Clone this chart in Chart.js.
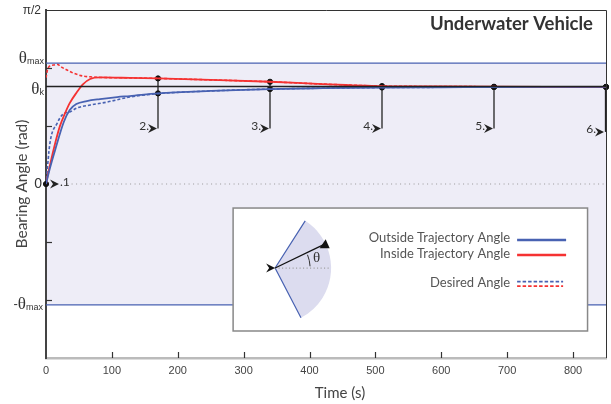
<!DOCTYPE html>
<html>
<head>
<meta charset="utf-8">
<script src="https://cdn.jsdelivr.net/npm/chart.js@4.4.1/dist/chart.umd.min.js"></script>
<style>
  body { margin: 0; background: #fff; }
</style>
</head>
<body>
<canvas id="myChart" width="611" height="404"></canvas>
<script>
// bearing angle (rad) against time (s)
const insideTimes = [0, 6, 14, 21, 29, 36, 47, 56, 67, 82, 127, 170, 250, 340, 420, 510, 600, 680, 760, 850];
const insideAngle = [0, 0.17, 0.37, 0.52, 0.64, 0.73, 0.83, 0.90, 0.948, 0.962, 0.958, 0.953, 0.94, 0.923, 0.902, 0.884, 0.880, 0.878, 0.877, 0.876];
const outsideTimes = [0, 6, 14, 27, 36, 46, 62, 82, 108, 127, 170, 250, 340, 420, 510, 600, 680, 760, 850];
const outsideAngle = [0, 0.144, 0.31, 0.56, 0.668, 0.722, 0.749, 0.767, 0.785, 0.794, 0.818, 0.84, 0.857, 0.865, 0.871, 0.873, 0.875, 0.876, 0.877];
const insideRefTimes = [0, 3, 11, 18, 21, 32, 41, 56, 71, 82, 127, 170, 250, 340, 420, 510, 600, 680, 760, 850];
const insideRefAngle = [0.96, 1.047, 1.074, 1.08, 1.065, 1.029, 1.002, 0.975, 0.966, 0.962, 0.958, 0.953, 0.94, 0.923, 0.902, 0.884, 0.880, 0.878, 0.877, 0.876];
const outsideRefTimes = [0, 6, 17, 26, 36, 47, 67, 93, 127, 170, 250, 340, 420, 510, 600, 680, 760, 850];
const outsideRefAngle = [0, 0.37, 0.55, 0.632, 0.65, 0.686, 0.713, 0.74, 0.785, 0.816, 0.84, 0.857, 0.865, 0.871, 0.873, 0.875, 0.876, 0.877];

const thetaMax = 1.092;
const thetaK = 0.88;

// numbered waypoints
const markerTimes = [170, 340, 510, 680, 850];
const markerInside = [0.953, 0.923, 0.884, 0.878, 0.876];
const markerOutside = [0.818, 0.857, 0.871, 0.875, 0.877];
const markerBottom = [0.5, 0.5, 0.5, 0.5, 0.47];
const markerNames = ['2.', '3.', '4.', '5.', '6.'];

const xTicks = [0, 100, 200, 300, 400, 500, 600, 700, 800];
const yTickMarks = [-Math.PI / 3, -Math.PI / 6, Math.PI / 6, Math.PI / 3];

const BLUE = '#4862b2';
const RED = '#f53232';

const pts = (ts, ys) => ts.map((t, i) => ({x: t, y: ys[i]}));

function chevron(ctx, x, y) {
    ctx.beginPath();
    ctx.moveTo(x, y);
    ctx.lineTo(x - 9, y - 4.5);
    ctx.lineTo(x - 6, y);
    ctx.lineTo(x - 9, y + 4.5);
    ctx.closePath();
    ctx.fill();
}

function thetaLabel(ctx, xr, base, sub, minus) {
    ctx.textAlign = 'right';
    ctx.textBaseline = 'alphabetic';
    ctx.font = '9px "Liberation Sans"';
    ctx.fillText(sub, xr, base + 1);
    let w = ctx.measureText(sub).width;
    ctx.font = '17px "Liberation Serif"';
    ctx.fillText('θ', xr - w, base);
    if (minus) {
        let w2 = ctx.measureText('θ').width;
        ctx.font = '13px "Liberation Sans"';
        ctx.fillText('-', xr - w - w2, base - 1);
    }
}

const decor = {
    id: 'decor',
    beforeDraw(chart) {
        const {ctx, chartArea: a, scales: {y}} = chart;
        const top = y.getPixelForValue(thetaMax), bot = y.getPixelForValue(-thetaMax);
        ctx.save();
        ctx.fillStyle = '#eeedf7';
        ctx.fillRect(a.left, top, a.right - a.left, bot - top);
        ctx.restore();
    },
    beforeDatasetsDraw(chart) {
        const {ctx, scales: {x, y}} = chart;
        ctx.save();
        ctx.strokeStyle = '#222';
        ctx.lineWidth = 1.3;
        markerTimes.forEach((t, i) => {
            const px = Math.min(x.getPixelForValue(t), chart.chartArea.right - 0.5);
            ctx.beginPath();
            ctx.moveTo(px, y.getPixelForValue(markerInside[i]));
            ctx.lineTo(px, y.getPixelForValue(markerBottom[i]));
            ctx.stroke();
        });
        ctx.restore();
    },
    afterDatasetsDraw(chart) {
        const {ctx, chartArea: a, scales: {x, y}} = chart;
        ctx.save();

        // waypoint arrows and labels
        ctx.fillStyle = '#222';
        ctx.font = '12px Lato';
        markerTimes.forEach((t, i) => {
            const px = Math.min(x.getPixelForValue(t), a.right - 1);
            const py = y.getPixelForValue(markerBottom[i]);
            chevron(ctx, px - 1, py);
            ctx.textAlign = 'right';
            ctx.textBaseline = 'alphabetic';
            ctx.fillStyle = '#333';
            ctx.fillText(markerNames[i], px - 9, py + 1);
            ctx.fillStyle = '#222';
        });
        const ox = x.getPixelForValue(0), oy = y.getPixelForValue(0);
        chevron(ctx, ox + 13, oy);
        ctx.textAlign = 'left';
        ctx.fillStyle = '#333';
        ctx.fillText('.1', ox + 14, oy + 2);

        // frame top and right
        ctx.strokeStyle = '#333';
        ctx.lineWidth = 1;
        ctx.beginPath();
        ctx.moveTo(a.left, a.top + 0.5);
        ctx.lineTo(a.right + 0.5, a.top + 0.5);
        ctx.lineTo(a.right + 0.5, a.bottom);
        ctx.stroke();

        // inward tick marks
        ctx.strokeStyle = '#333';
        ctx.lineWidth = 1.2;
        xTicks.slice(1).forEach(v => {
            const px = Math.round(x.getPixelForValue(v)) + 0.5;
            ctx.beginPath();
            ctx.moveTo(px, a.bottom - 6);
            ctx.lineTo(px, a.bottom);
            ctx.stroke();
        });
        yTickMarks.forEach(v => {
            const py = Math.round(y.getPixelForValue(v)) + 0.5;
            ctx.beginPath();
            ctx.moveTo(a.left, py);
            ctx.lineTo(a.left + 6, py);
            ctx.stroke();
        });

        // y tick labels
        ctx.fillStyle = '#333';
        ctx.textAlign = 'right';
        ctx.textBaseline = 'middle';
        ctx.font = '12px "Liberation Sans"';
        ctx.fillText('π/2', 41, y.getPixelForValue(Math.PI / 2) + 1);
        ctx.font = '14px "Liberation Sans"';
        ctx.fillText('0', 42, y.getPixelForValue(0));
        thetaLabel(ctx, 44, y.getPixelForValue(thetaMax), 'max', false);
        thetaLabel(ctx, 44, y.getPixelForValue(thetaK) + 7, 'k', false);
        thetaLabel(ctx, 43, y.getPixelForValue(-thetaMax) + 4, 'max', true);

        // x axis title, sits a little right of centre in the original
        ctx.font = '15px Lato';
        ctx.fillStyle = '#444';
        ctx.textAlign = 'center';
        ctx.textBaseline = 'middle';
        ctx.fillText('Time (s)', 340, 393);

        // title
        ctx.font = 'bold 18.5px Lato';
        ctx.fillStyle = '#333';
        ctx.textAlign = 'right';
        ctx.textBaseline = 'alphabetic';
        ctx.fillText('Underwater Vehicle', a.right - 13, a.top + 20);

        // inset box with sketch and legend
        const L = x.getPixelForValue(284), T = y.getPixelForValue(-0.217);
        const R = x.getPixelForValue(822), B = y.getPixelForValue(-1.327);
        ctx.fillStyle = '#fff';
        ctx.fillRect(L, T, R - L, B - T);
        ctx.strokeStyle = '#888';
        ctx.lineWidth = 1.5;
        ctx.strokeRect(L, T, R - L, B - T);

        const cx = L + 42, cy = T + 60, r = 56;
        const a1 = -57.5 * Math.PI / 180, a2 = 62.5 * Math.PI / 180;
        ctx.fillStyle = '#dcdcef';
        ctx.beginPath();
        ctx.moveTo(cx, cy);
        ctx.arc(cx, cy, r, a1, a2);
        ctx.closePath();
        ctx.fill();
        ctx.strokeStyle = BLUE;
        ctx.lineWidth = 1.2;
        ctx.beginPath();
        ctx.moveTo(cx + r * Math.cos(a1), cy + r * Math.sin(a1));
        ctx.lineTo(cx, cy);
        ctx.lineTo(cx + r * Math.cos(a2), cy + r * Math.sin(a2));
        ctx.stroke();

        ctx.strokeStyle = '#999';
        ctx.setLineDash([1, 2.5]);
        ctx.beginPath();
        ctx.moveTo(cx, cy);
        ctx.lineTo(cx + 55, cy);
        ctx.stroke();
        ctx.setLineDash([]);

        const hd = -25.7 * Math.PI / 180;
        const ex = cx + 55 * Math.cos(hd), ey = cy + 55 * Math.sin(hd);
        ctx.strokeStyle = '#111';
        ctx.lineWidth = 1.3;
        ctx.beginPath();
        ctx.moveTo(cx, cy);
        ctx.lineTo(ex, ey);
        ctx.stroke();
        ctx.fillStyle = '#111';
        ctx.beginPath();
        ctx.moveTo(ex - 5, ey + 4);
        ctx.lineTo(ex + 5, ey + 4);
        ctx.lineTo(ex + 1, ey - 5);
        ctx.closePath();
        ctx.fill();
        chevron(ctx, cx, cy);

        ctx.strokeStyle = '#333';
        ctx.lineWidth = 1;
        ctx.beginPath();
        ctx.arc(cx, cy, 35, hd + 0.06, -0.05);
        ctx.stroke();
        ctx.fillStyle = '#333';
        ctx.font = '15px "Liberation Serif"';
        ctx.textAlign = 'left';
        ctx.textBaseline = 'middle';
        ctx.fillText('θ', cx + 38, cy - 10);

        ctx.font = '13px Lato';
        ctx.fillStyle = '#555';
        ctx.textAlign = 'right';
        ctx.textBaseline = 'middle';
        ctx.fillText('Outside Trajectory Angle', L + 277, T + 30);
        ctx.fillText('Inside Trajectory Angle', L + 277, T + 46);
        ctx.fillText('Desired Angle', L + 277, T + 75);
        ctx.lineWidth = 2.5;
        ctx.strokeStyle = BLUE;
        ctx.beginPath(); ctx.moveTo(L + 284, T + 32); ctx.lineTo(L + 333, T + 32); ctx.stroke();
        ctx.strokeStyle = RED;
        ctx.beginPath(); ctx.moveTo(L + 284, T + 47); ctx.lineTo(L + 333, T + 47); ctx.stroke();
        ctx.lineWidth = 1.8;
        ctx.setLineDash([3.5, 2]);
        ctx.strokeStyle = BLUE;
        ctx.beginPath(); ctx.moveTo(L + 284, T + 73.5); ctx.lineTo(L + 330, T + 73.5); ctx.stroke();
        ctx.strokeStyle = RED;
        ctx.beginPath(); ctx.moveTo(L + 284, T + 78); ctx.lineTo(L + 330, T + 78); ctx.stroke();
        ctx.setLineDash([]);

        ctx.restore();
    }
};

const data = {
    datasets: [
        {data: [{x: 0, y: thetaMax}, {x: 850, y: thetaMax}], borderColor: BLUE, borderWidth: 1.3},
        {data: [{x: 0, y: -thetaMax}, {x: 850, y: -thetaMax}], borderColor: BLUE, borderWidth: 1.3},
        {data: [{x: 0, y: thetaK}, {x: 850, y: thetaK}], borderColor: '#222', borderWidth: 1.3},
        {data: [{x: 32, y: 0}, {x: 850, y: 0}], borderColor: '#999', borderWidth: 1.2, borderDash: [1, 3.5]},
        {label: 'Outside Trajectory Angle', data: pts(outsideTimes, outsideAngle), borderColor: BLUE, borderWidth: 1.8, cubicInterpolationMode: 'monotone'},
        {label: 'Inside Trajectory Angle', data: pts(insideTimes, insideAngle), borderColor: RED, borderWidth: 1.8, cubicInterpolationMode: 'monotone'},
        {label: 'Desired Angle', data: pts(outsideRefTimes, outsideRefAngle), borderColor: BLUE, borderWidth: 1.6, borderDash: [3, 2], cubicInterpolationMode: 'monotone'},
        {label: 'Desired Angle', data: pts(insideRefTimes, insideRefAngle), borderColor: RED, borderWidth: 1.6, borderDash: [3, 2], cubicInterpolationMode: 'monotone'},
        {
            type: 'scatter',
            data: [{x: 0, y: 0}].concat(pts(markerTimes, markerInside), pts(markerTimes, markerOutside)),
            backgroundColor: '#111', borderColor: '#111', pointRadius: 2.6, clip: false
        }
    ]
};

const config = {
    type: 'line',
    data: data,
    options: {
        responsive: false,
        animation: false,
        elements: {point: {radius: 0}, line: {fill: false}},
        layout: {padding: {top: 10, right: 4, left: 0, bottom: 0}},
        plugins: {legend: {display: false}, tooltip: {enabled: false}},
        scales: {
            x: {
                type: 'linear', min: 0, max: 850,
                afterBuildTicks: s => { s.ticks = xTicks.map(v => ({value: v})); },
                afterFit: s => { s.height = 46; },
                grid: {display: false, drawTicks: false},
                border: {color: '#bbb', width: 2.5},
                ticks: {font: {family: 'Liberation Sans', size: 11}, color: '#444', padding: 6, maxRotation: 0},
                title: {display: false}
            },
            y: {
                type: 'linear', min: -Math.PI / 2, max: Math.PI / 2,
                afterBuildTicks: s => { s.ticks = []; },
                afterFit: s => { s.width = 46; },
                grid: {display: false},
                border: {color: '#444', width: 2},
                ticks: {display: false},
                title: {display: true, text: 'Bearing Angle (rad)', font: {family: 'Lato', size: 15.5}, color: '#444', padding: {top: 13, bottom: 0}}
            }
        }
    },
    plugins: [decor]
};

const myChart = new Chart(document.getElementById('myChart'), config);
</script>
</body>
</html>
